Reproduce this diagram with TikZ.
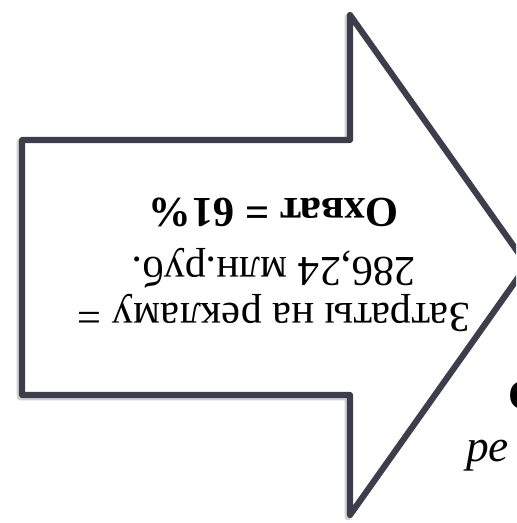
\documentclass[tikz,border=0pt]{standalone}
\usepackage{fontspec}
\setmainfont{Liberation Serif}
\definecolor{arrowline}{RGB}{60,62,76}

\begin{document}
\begin{tikzpicture}[
    x=0.75pt, y=0.75pt,
    every node/.style={font=\fontsize{32}{35}\selectfont, inner sep=0pt},
    arrowedge/.style={draw=arrowline, line width=4.6pt, line join=round, fill=white},
]
\useasboundingbox (0,0) rectangle (516,523);
\clip (0,0) rectangle (516,523);

% === Block arrow (tip runs past the right edge) ===
\def\bodyL{22}
\def\bodyB{128}
\def\bodyT{383}
\def\headX{350}
\def\headB{8}
\def\headT{508}
\def\tipX{527}
\def\tipY{258}

% soft shadow
\draw[draw=black!18, line width=5pt, line join=round, shift={(-2,-2)}]
    (\bodyL,\bodyB) -- (\bodyL,\bodyT) -- (\headX,\bodyT) -- (\headX,\headT)
    -- (\tipX,\tipY) -- (\headX,\headB) -- (\headX,\bodyB) -- cycle;
% outline
\draw[arrowedge]
    (\bodyL,\bodyB) -- (\bodyL,\bodyT) -- (\headX,\bodyT) -- (\headX,\headT)
    -- (\tipX,\tipY) -- (\headX,\headB) -- (\headX,\bodyB) -- cycle;

% === Upside-down label ===
\node[rotate=180, align=center] (cost) at (274,258)
    {Затраты на рекламу =\\286,24 млн.руб.\\[9pt]\textbf{Охват = 61\%}};

% === Text of the next block (cut off) ===
\node[anchor=base west, font=\fontsize{32}{35}\selectfont\bfseries] (nextTitle) at (508,113) {С};
\node[anchor=base west, font=\fontsize{34}{35}\selectfont\itshape] (nextText) at (466,61) {ре};

\end{tikzpicture}
\end{document}
